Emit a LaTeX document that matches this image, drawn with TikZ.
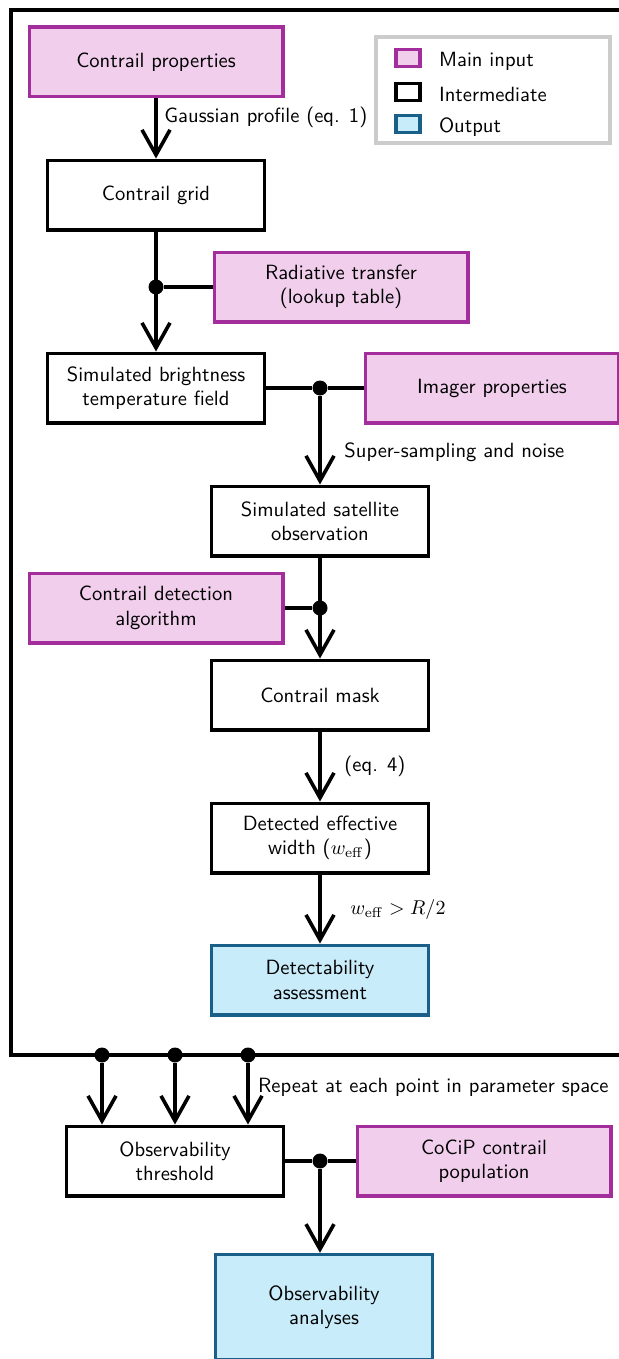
\documentclass[tikz,border=0pt]{standalone}
\usetikzlibrary{arrows.meta}
\renewcommand{\familydefault}{\sfdefault}
\definecolor{inputfill}{RGB}{240,206,236}
\definecolor{inputdraw}{RGB}{163,45,155}
\definecolor{outputfill}{RGB}{200,236,250}
\definecolor{outputdraw}{RGB}{26,95,135}
\definecolor{legenddraw}{RGB}{204,204,204}
\begin{document}
\begin{tikzpicture}[x=0.5pt,y=-0.5pt,font=\fontsize{10.3}{12.2}\selectfont,
box/.style={draw,line width=1.7pt,align=center,inner sep=2pt,minimum width=108.3pt,minimum height=34.8pt},
input/.style={box,draw=inputdraw,fill=inputfill,minimum width=126.8pt},
inter/.style={box,fill=white},
output/.style={box,draw=outputdraw,fill=outputfill},
dot/.style={circle,fill,inner sep=0pt,minimum size=7.5pt},
flow/.style={line width=1.8pt,-{Straight Barb[length=12.5pt,width=14pt,line width=1.8pt]}},
link/.style={line width=1.8pt},
key/.style={draw,line width=1.7pt,minimum width=12pt,minimum height=8.5pt,inner sep=0pt}]
	\useasboundingbox (0,0) rectangle (619,1359);
	\clip (0,0) rectangle (619,1359);
	\draw[link] (11,10) rectangle (720,1055);

	\node[draw=legenddraw,line width=1.7pt,minimum width=117pt,minimum height=53pt] (legend) at (493,90) {};
	\node[key,draw=inputdraw,fill=inputfill] (k1) at (408,58) {};
	\node[key,fill=white] (k2) at (408,92) {};
	\node[key,draw=outputdraw,fill=outputfill] (k3) at (408,124) {};
	\node[anchor=west] at (432,61) {Main input};
	\node[anchor=west] at (432,94) {Intermediate};
	\node[anchor=west] at (432,127) {Output};

	\node[input] (props) at (156,62) {Contrail properties};
	\node[inter] (grid) at (156,195) {Contrail grid};
	\node[input] (rt) at (341,287) {Radiative transfer\\(lookup table)};
	\node[inter] (sbt) at (156,388) {Simulated brightness\\temperature field};
	\node[input] (imager) at (492,388) {Imager properties};
	\node[inter] (sso) at (320,521) {Simulated satellite\\observation};
	\node[input] (cda) at (156,608) {Contrail detection\\algorithm};
	\node[inter] (mask) at (320,695) {Contrail mask};
	\node[inter] (weff) at (320,838) {Detected effective\\width ($w_\mathrm{eff}$)};
	\node[output] (assess) at (320,980) {Detectability\\assessment};
	\node[inter] (thresh) at (175,1161) {Observability\\threshold};
	\node[input] (cocip) at (484,1161) {CoCiP contrail\\population};
	\node[output,minimum height=52.5pt] (analyses) at (324,1307) {Observability\\analyses};

	\draw[flow] (props) -- node[right=0pt,pos=0.32] {Gaussian profile (eq. 1)} (grid);
	\draw[flow] (grid) -- (sbt);
	\node[dot] (d1) at (grid.south |- rt.west) {};
	\draw[link] (d1) -- (rt);
	\node[dot] (d2) at (sso.north |- sbt.east) {};
	\draw[link] (sbt) -- (d2) -- (imager);
	\draw[flow] (d2) -- node[right=8pt,pos=0.64] {Super-sampling and noise} (sso);
	\node[dot] (d3) at (sso.south |- cda.east) {};
	\draw[link] (cda) -- (d3);
	\draw[flow] (sso) -- (mask);
	\draw[flow] (mask) -- node[right=8pt] {(eq. 4)} (weff);
	\draw[flow] (weff) -- node[right=11pt] {$w_\mathrm{eff} > R/2$} (assess);

	\foreach \x/\n in {102/r1,175/r2,248/r3} {
		\node[dot] (\n) at (\x,1055) {};
		\draw[flow] (\n) -- (\n |- thresh.north);
	}
	\node[anchor=west] at (251,1087) {Repeat at each point in parameter space};
	\node[dot] (d4) at (320,1161) {};
	\draw[link] (thresh) -- (d4) -- (cocip);
	\draw[flow] (d4) -- (d4 |- analyses.north);
\end{tikzpicture}
\end{document}
